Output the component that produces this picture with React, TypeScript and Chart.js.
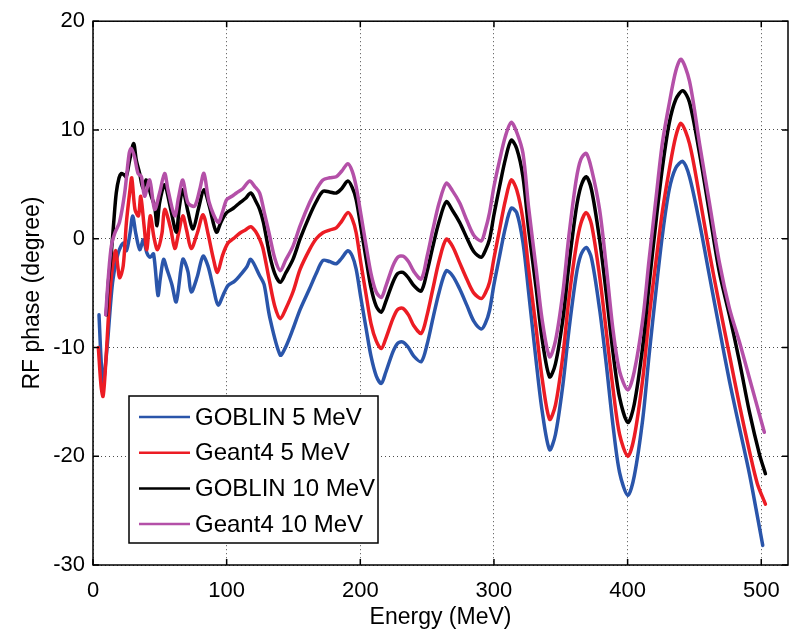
import React, { useEffect, useRef } from "react";
import { Chart, registerables } from "chart.js";

Chart.register(...registerables);

const xTicks = [0, 100, 200, 300, 400, 500];
const yTicks = [-30, -20, -10, 0, 10, 20];
const xTitle = "Energy (MeV)";
const yTitle = "RF phase (degree)";
const seriesLabels = ["GOBLIN 5 MeV", "Geant4 5 MeV", "GOBLIN 10 MeV", "Geant4 10 MeV"];
const seriesColors = ["#2a55aa", "#ec1c24", "#000000", "#b450a8"];

const goblin5Energy = [4.5, 6, 7.5, 9, 11.3, 13, 15, 18.9, 22.6, 25, 27.7, 29.7, 32, 35, 37.7, 40.3, 42.8, 45.3, 48.6, 50.3, 52.8, 55.3, 59, 62.3, 67.2, 71, 73.5, 78, 82.3, 86, 90, 93.6, 98, 101, 106, 109.8, 115, 118.1, 124.7, 128, 132.2, 140.1, 144, 149.6, 155, 162, 167, 172, 177, 182, 186, 190.7, 194, 196.9, 200.5, 204.4, 208, 211.9, 215.7, 219, 224.4, 228, 231.9, 236, 240, 245.6, 250, 254.3, 259, 264.3, 269, 274.3, 280, 285, 290.5, 293.5, 296.7, 300, 304.2, 308.5, 312.9, 317, 321.7, 326, 331.6, 336, 341.6, 346, 351.6, 356, 361.5, 365, 369, 373, 379, 384, 389, 394, 400.2, 405, 411.4, 416, 421.4, 426, 431.1, 436, 441.3, 446.3, 453.8, 461.2, 468.7, 476.2, 483.7, 491.1, 496, 501.1];
const goblin5Phase = [-7.0, -11, -13.4, -12, -8.9, -6.2, -3.7, -1.3, -0.4, -1.1, 0.5, 2.1, 0.5, -1.0, -0.1, -1.3, -1.7, -1.4, -5.2, -3.7, -1.9, -2.8, -4.2, -5.8, -1.9, -3.0, -4.9, -3.5, -1.6, -2.5, -4.5, -6.1, -5.0, -4.3, -3.9, -3.4, -2.6, -1.9, -3.4, -4.2, -7.2, -10.7, -10.0, -8.3, -6.5, -4.6, -3.2, -2.0, -2.1, -2.3, -1.8, -1.1, -1.6, -2.8, -5.5, -8.3, -10.8, -12.6, -13.3, -12.3, -10.4, -9.6, -9.5, -10.0, -10.8, -11.3, -9.7, -7.35, -4.9, -2.95, -3.4, -4.6, -6.2, -7.6, -8.3, -7.8, -6.6, -4.2, -1.6, 1.0, 2.8, 2.4, -0.35, -5.0, -11.3, -15.8, -19.4, -18.0, -13.4, -8.5, -3.4, -1.5, -0.8, -1.8, -6.45, -11.5, -17.1, -21.5, -23.6, -21.8, -16.5, -10.8, -4.6, 0.3, 4.5, 6.5, 7.1, 5.7, 1.45, -3.4, -8.3, -13.1, -17.4, -21.6, -24.8, -28.2];

const geant5Energy = [4, 6, 7.5, 9, 11.3, 13, 15, 17, 18.5, 20, 22.6, 25, 27.7, 29, 31.4, 34, 35.7, 38.2, 40.3, 42.8, 45.8, 48.3, 51.6, 53.6, 58, 61.2, 64, 67.2, 70, 73.5, 78, 82.3, 86, 90, 93.1, 97, 101, 105, 109.8, 114, 118.1, 122, 124.7, 127.2, 132.2, 136, 140.1, 144, 149.6, 155, 162, 167, 172, 177, 182, 186, 190.7, 194, 196.9, 200.5, 204.4, 208, 211.9, 215.7, 219, 224.4, 228, 231.9, 236, 240, 245.6, 250, 254.3, 259, 264.3, 269, 274.3, 280, 285, 290.5, 293.5, 296.7, 300, 304.2, 308.5, 312.9, 317, 321.7, 326, 331.6, 336, 341.6, 346, 351.6, 356, 361.5, 365, 369, 373, 379, 384, 389, 394, 400.2, 405, 411.4, 416, 421.4, 426, 431.1, 436, 440, 446.3, 453.8, 461.2, 468.7, 476.2, 483.7, 491.1, 497, 503.1];
const geant5Phase = [-10.0, -13.5, -14.5, -12.5, -7.7, -4.5, -2.2, -1.1, -2.5, -3.6, -2.5, 1.5, 4.5, 5.6, 2.7, 2.1, 3.9, 1.2, -1.0, 2.1, 0.0, -1.0, 0.5, 2.7, 1.0, -0.9, 0.5, 2.1, 0.8, -0.9, 0.5, 2.2, 0.5, -1.8, -3.1, -1.5, -0.4, 0.0, 0.5, 0.8, 1.1, 0.6, -0.05, -0.9, -4.0, -6.2, -7.35, -6.5, -4.9, -2.8, -1.0, 0.0, 0.55, 0.8, 1.0, 1.6, 2.4, 1.8, 0.55, -2.3, -5.2, -7.8, -9.4, -10.1, -9.2, -7.35, -6.5, -6.4, -7.0, -8.0, -8.7, -7.0, -4.6, -2.0, -0.05, -0.7, -2.2, -3.8, -5.0, -5.5, -5.0, -4.0, -1.8, 0.85, 3.5, 5.4, 4.5, 1.75, -2.8, -8.3, -12.8, -16.6, -15.3, -10.7, -5.6, -0.7, 1.4, 2.4, 1.3, -3.4, -8.5, -13.7, -18.0, -20.0, -18.2, -12.8, -7.3, -1.9, 2.5, 6.3, 9.4, 10.6, 8.75, 3.9, -1.3, -6.1, -10.7, -15.3, -19.5, -22.5, -24.4];

const goblin10Energy = [9.9, 11.5, 13.7, 15.5, 17.4, 19.5, 21.2, 23, 24.8, 27.4, 30.4, 32.4, 34.9, 37.4, 39.9, 43.6, 46.1, 47.9, 49.8, 53.6, 58, 62.3, 64.5, 67.2, 71, 74.8, 79, 83, 87, 92.3, 96, 100, 105, 109.8, 114, 118.1, 122, 124.7, 127.5, 132.2, 136, 140.1, 144, 149.6, 155, 162, 167, 172, 177, 182, 186, 190.7, 194, 196.9, 200.5, 204.4, 208, 211.9, 215.7, 219, 224.4, 228, 231.9, 236, 240, 245.6, 250, 254.3, 259, 264.3, 269, 274.3, 280, 285, 290.5, 293.5, 296.7, 300, 304.2, 308.5, 312.9, 317, 321.7, 326, 331.6, 336, 341.6, 346, 351.6, 356, 361.5, 365, 369, 373, 379, 384, 389, 394, 400.2, 405, 411.4, 416, 421.4, 426, 431.1, 436, 441.3, 446.3, 453.8, 461.2, 468.7, 476.2, 483.7, 491.1, 498.6, 503.1];
const goblin10Phase = [-7.0, -4.0, -1.3, 1.5, 4.2, 5.6, 6.0, 5.9, 5.7, 7.2, 8.75, 7.2, 6.0, 4.65, 5.4, 3.9, 3.0, 1.2, 3.3, 4.95, 2.8, 0.6, 2.8, 4.5, 2.5, 0.9, 2.8, 4.5, 3.0, 0.6, 1.6, 2.4, 2.8, 3.3, 3.7, 4.2, 3.4, 2.7, 1.5, -1.5, -3.2, -4.0, -3.2, -1.9, 0.0, 2.1, 3.4, 4.35, 4.3, 4.2, 4.6, 5.3, 4.7, 3.6, 1.0, -1.9, -4.5, -6.2, -6.75, -5.8, -4.0, -3.2, -3.1, -3.6, -4.3, -4.8, -3.0, -0.7, 1.6, 3.4, 2.6, 1.5, 0.0, -1.2, -1.7, -1.1, -0.05, 2.2, 4.8, 7.3, 9.05, 8.3, 5.7, 0.8, -4.6, -9.2, -12.7, -11.5, -7.35, -2.5, 2.7, 4.8, 5.7, 4.5, -0.05, -5.0, -10.4, -14.6, -16.9, -15.2, -9.8, -4.3, 1.75, 6.5, 10.6, 12.8, 13.6, 12.55, 7.85, 2.4, -3.1, -7.05, -11.3, -15.9, -19.8, -21.6];

const geant10Energy = [9.5, 11.5, 13.7, 16.3, 19.8, 23.7, 27, 28.6, 31.1, 33.7, 36.2, 38.6, 42.4, 46.1, 49.8, 53.6, 56.1, 61.2, 64, 67.2, 71, 76, 80, 83, 87, 93.6, 97, 100, 104, 107.3, 112, 117.2, 121, 124.7, 128, 132.2, 136, 140.1, 144, 149.6, 155, 162, 167, 172, 177, 182, 186, 190.7, 194, 196.9, 200.5, 204.4, 208, 211.9, 215.7, 219, 224.4, 228, 231.9, 236, 240, 245.6, 250, 254.3, 259, 264.3, 269, 274.3, 280, 285, 290.5, 293.5, 296.7, 300, 304.2, 308.5, 312.9, 317, 321.7, 326, 331.6, 336, 341.6, 346, 351.6, 356, 361.5, 365, 369, 373, 379, 384, 389, 394, 400.2, 405, 411.4, 416, 421.4, 426, 431.1, 436, 440, 446.3, 453.8, 461.2, 468.7, 476.2, 483.7, 491.1, 502.3];
const geant10Phase = [-7.0, -3.5, -0.7, 0.5, 1.5, 4.2, 7.8, 8.3, 7.5, 6.0, 5.7, 3.9, 5.4, 2.7, 4.2, 6.0, 4.5, 2.1, 3.8, 5.4, 3.3, 3.0, 4.6, 6.0, 3.3, 1.5, 2.5, 3.6, 3.9, 4.2, 4.6, 5.3, 4.8, 4.2, 2.5, 0.25, -1.8, -2.95, -2.0, -0.7, 1.2, 3.3, 4.5, 5.4, 5.6, 5.7, 6.2, 6.9, 6.2, 4.8, 2.2, -0.7, -3.2, -4.9, -5.4, -4.4, -2.5, -1.7, -1.6, -2.1, -3.0, -3.7, -1.6, 0.85, 3.3, 5.1, 4.4, 3.3, 1.6, 0.3, -0.2, 0.8, 2.4, 4.8, 7.2, 9.4, 10.7, 9.8, 7.85, 2.8, -2.8, -7.4, -10.85, -9.4, -4.9, 0.2, 5.4, 7.3, 7.85, 6.4, 2.7, -2.5, -8.3, -12.2, -13.9, -12.2, -7.35, -2.0, 3.9, 8.8, 12.4, 15.4, 16.5, 14.5, 8.75, 3.3, -2.2, -6.4, -9.5, -12.8, -17.8];

const seriesEnergy = [goblin5Energy, geant5Energy, goblin10Energy, geant10Energy];
const seriesPhase = [goblin5Phase, geant5Phase, goblin10Phase, geant10Phase];

const FONT = "'Liberation Sans', Arial, Helvetica, sans-serif";

const framePlugin = {
  id: "matlabFrame",
  afterDraw(chart: any) {
    const { ctx, chartArea } = chart;
    const xs = chart.scales.x;
    const ys = chart.scales.y;
    const { left, right, top, bottom } = chartArea;
    ctx.save();
    ctx.strokeStyle = "#000";
    ctx.lineWidth = 1.5;
    ctx.setLineDash([]);
    ctx.strokeRect(left, top, right - left, bottom - top);
    const tl = 6;
    ctx.beginPath();
    xTicks.forEach((v) => {
      const px = xs.getPixelForValue(v);
      ctx.moveTo(px, bottom);
      ctx.lineTo(px, bottom - tl);
      ctx.moveTo(px, top);
      ctx.lineTo(px, top + tl);
    });
    yTicks.forEach((v) => {
      const py = ys.getPixelForValue(v);
      ctx.moveTo(left, py);
      ctx.lineTo(left + tl, py);
      ctx.moveTo(right, py);
      ctx.lineTo(right - tl, py);
    });
    ctx.stroke();

    // legend
    const bx = 129, by = 396, bw = 249, bh = 147;
    ctx.fillStyle = "#fff";
    ctx.fillRect(bx, by, bw, bh);
    ctx.lineWidth = 1.5;
    ctx.strokeRect(bx, by, bw, bh);
    ctx.font = `24px ${FONT}`;
    ctx.textBaseline = "middle";
    ctx.textAlign = "left";
    const rowH = 35.7;
    chart.data.datasets.forEach((ds: any, i: number) => {
      const cy = by + 21 + i * rowH;
      ctx.strokeStyle = ds.borderColor;
      ctx.lineWidth = 2.5;
      ctx.beginPath();
      ctx.moveTo(139, cy);
      ctx.lineTo(190, cy);
      ctx.stroke();
      ctx.fillStyle = "#000";
      ctx.fillText(ds.label, 195, cy + 1);
    });
    ctx.restore();
  },
};

export default function App() {
  const canvasRef = useRef<HTMLCanvasElement | null>(null);

  useEffect(() => {
    if (!canvasRef.current) return;
    const datasets = seriesLabels.map((label, i) => ({
      label,
      data: seriesEnergy[i].map((e, j) => ({ x: e, y: seriesPhase[i][j] })),
      borderColor: seriesColors[i],
      backgroundColor: seriesColors[i],
      borderWidth: 3.5,
      pointRadius: 0,
      tension: 0.3,
      fill: false,
      borderJoinStyle: "round" as const,
      borderCapStyle: "round" as const,
      order: 4 - i,
    }));

    const chart = new Chart(canvasRef.current, {
      type: "line",
      data: { datasets },
      plugins: [framePlugin],
      options: {
        animation: false,
        responsive: false,
        devicePixelRatio: 1,
        parsing: false as any,
        layout: { padding: { top: 17, right: 5, left: 0, bottom: 0 } },
        plugins: {
          legend: { display: false },
          tooltip: { enabled: false },
        },
        scales: {
          x: {
            type: "linear",
            min: 0,
            max: 520,
            afterBuildTicks: (s: any) => {
              s.ticks = xTicks.map((v) => ({ value: v }));
            },
            afterFit: (s: any) => {
              s.height = 67;
            },
            grid: { color: "rgba(0,0,0,0.7)", lineWidth: 1, drawTicks: false },
            border: { display: false, dash: [1, 3] },
            ticks: {
              color: "#000",
              font: { family: FONT, size: 22 },
              padding: 13,
              maxRotation: 0,
            },
            title: {
              display: true,
              text: xTitle,
              color: "#000",
              font: { family: FONT, size: 23 },
              padding: { top: 0, bottom: 1 },
            },
          },
          y: {
            type: "linear",
            min: -30,
            max: 20,
            afterBuildTicks: (s: any) => {
              s.ticks = yTicks.map((v) => ({ value: v }));
            },
            afterFit: (s: any) => {
              s.width = 93;
            },
            grid: { color: "rgba(0,0,0,0.7)", lineWidth: 1, drawTicks: false },
            border: { display: false, dash: [1, 3] },
            ticks: {
              color: "#000",
              font: { family: FONT, size: 22 },
              padding: 8,
            },
            title: {
              display: true,
              text: yTitle,
              color: "#000",
              font: { family: FONT, size: 23 },
              padding: { top: 19, bottom: 0 },
            },
          },
        },
      },
    });
    return () => chart.destroy();
  }, []);

  return (
    <div style={{ position: "absolute", left: 0, top: 0, width: 793, height: 632, background: "#fff" }}>
      <canvas ref={canvasRef} width={793} height={632} style={{ display: "block" }} />
    </div>
  );
}
